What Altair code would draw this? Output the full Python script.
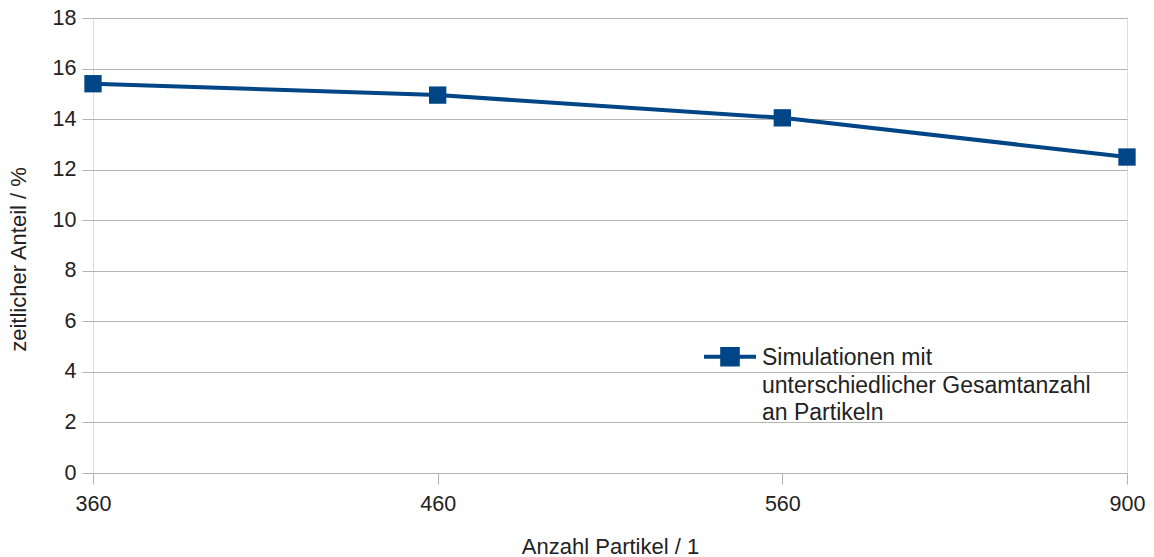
import altair as alt
import pandas as pd

categories = ["360", "460", "560", "900"]
values = [15.4, 14.95, 14.05, 12.5]
series = ["Simulationen mit unterschiedlicher Gesamtanzahl an Partikeln"] * 4

df = pd.DataFrame({"x": categories, "y": values, "s": series})

BLUE = "#004586"
GRID = "#b3b3b3"
FONT = "Liberation Sans"
TXT = "#222222"

base = alt.Chart(df).encode(
    x=alt.X("x:N", sort=categories,
            scale=alt.Scale(type="point", padding=0),
            axis=alt.Axis(title="Anzahl Partikel / 1", labelAngle=0, grid=False,
                          domain=False, tickSize=11, tickColor=GRID, labelPadding=9,
                          labelFontSize=21.5, labelFont=FONT, labelColor=TXT,
                          titleFontSize=22, titleFont=FONT, titleFontWeight="normal",
                          titleColor=TXT, titleBaseline="middle", titleY=73)),
    y=alt.Y("y:Q", scale=alt.Scale(domain=[0, 18], nice=False),
            axis=alt.Axis(title="zeitlicher Anteil / %", values=list(range(0, 19, 2)),
                          grid=True, gridColor=GRID, domain=False, tickSize=11,
                          tickColor=GRID, labelPadding=6, labelFontSize=21.5,
                          labelFont=FONT, labelColor=TXT,
                          titleFontSize=22, titleFont=FONT, titleFontWeight="normal",
                          titleColor=TXT, titleBaseline="middle", titleAlign="center",
                          titleX=-75, titleY=241)),
    color=alt.Color("s:N", scale=alt.Scale(range=[BLUE]),
                    legend=alt.Legend(
                        title=None, orient="none", legendX=609, legendY=301,
                        symbolType="M-1,0.375H1M-0.3,0.075H0.3V0.675H-0.3Z",
                        symbolSize=2704, symbolStrokeWidth=4,
                        symbolFillColor=BLUE, symbolStrokeColor=BLUE,
                        labelFontSize=23, labelFont=FONT, labelColor=TXT,
                        labelLimit=500, labelOffset=4, labelBaseline="top",
                        labelExpr="['Simulationen mit', 'unterschiedlicher Gesamtanzahl', 'an Partikeln']",
                        padding=0)),
)

line = base.mark_line(strokeWidth=4)
pts = base.mark_point(shape="square", size=300, filled=True, opacity=1)

chart = (line + pts).properties(
    width=1034, height=455,
    autosize=alt.AutoSizeParams(type="none"),
    padding={"left": 93, "top": 18, "right": 27, "bottom": 84},
    background="white",
).configure_view(stroke=GRID, strokeWidth=1.5).configure(
    style={"guide-label": {"lineHeight": 27.5}}
)

chart.save("out.html", embed_options={"renderer": "svg", "actions": False})
